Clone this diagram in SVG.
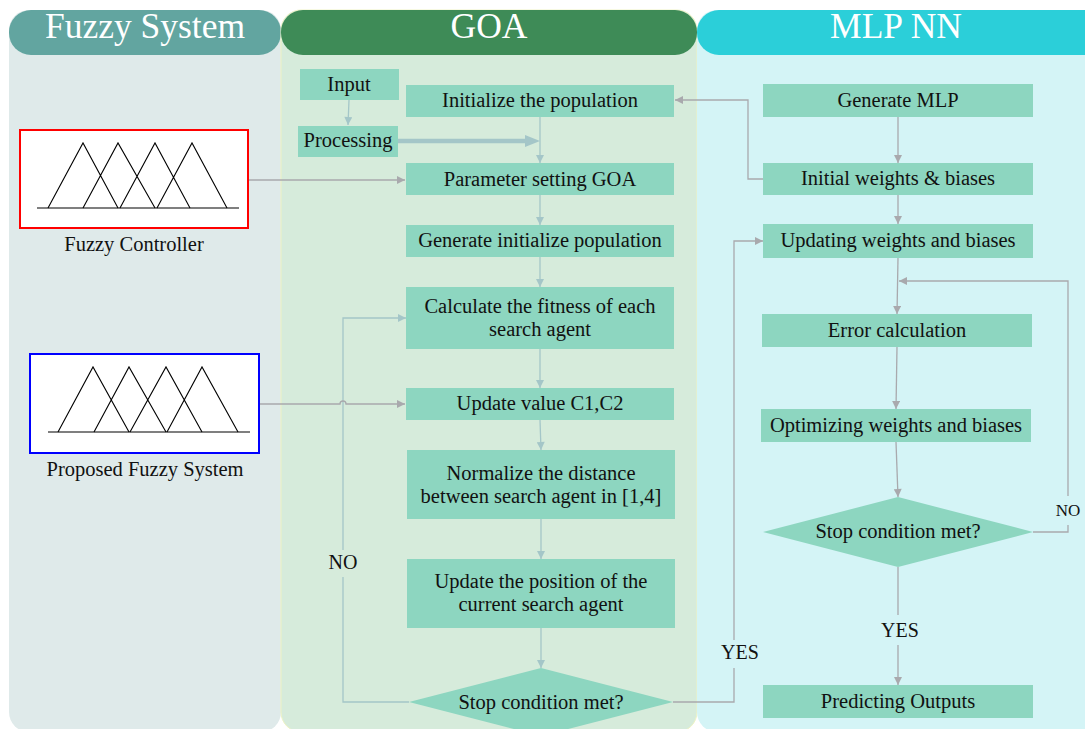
<svg xmlns="http://www.w3.org/2000/svg" width="1085" height="729" viewBox="0 0 1085 729">
<defs>
<style>
text{font-family:"Liberation Serif","Times New Roman",serif}
.hdr{font-size:35.5px;fill:#fff;text-anchor:middle}
.nt{font-size:20.5px;fill:#111;text-anchor:middle}
.lbl{font-size:20px;fill:#111;text-anchor:middle}
.node{fill:#8dd6c0}
.cg{fill:none;stroke:#a9a9ad;stroke-width:1.3}
.cb{fill:none;stroke:#a4c6c8;stroke-width:1.3}
.tri{fill:none;stroke:#000;stroke-width:1.1}
</style>
<marker id="ag" viewBox="0 0 10 10" refX="10" refY="5" markerWidth="9" markerHeight="8" markerUnits="userSpaceOnUse" orient="auto"><path d="M0,0L10,5L0,10z" fill="#a9a9ad"/></marker>
<marker id="ab" viewBox="0 0 10 10" refX="10" refY="5" markerWidth="9" markerHeight="8" markerUnits="userSpaceOnUse" orient="auto"><path d="M0,0L10,5L0,10z" fill="#a4c6c8"/></marker>
</defs>
<rect width="1085" height="729" fill="#fff"/>
<g font-family="Liberation Serif, Times New Roman, serif">
<!-- lanes -->
<g id="lane-fuzzy">
<rect x="9" y="10" width="272" height="722" rx="20" fill="#dfeaea"/>
<rect x="9" y="10" width="272" height="45" rx="22" fill="#62a5a0"/>
<text class="hdr" x="145" y="38">Fuzzy System</text>
</g>
<g id="lane-goa">
<rect x="281" y="10" width="416" height="722" rx="20" fill="#d6ebdb" stroke="#eef3c4" stroke-width="1"/>
<rect x="281" y="10" width="416" height="45" rx="22" fill="#3e8b57"/>
<text class="hdr" x="489" y="38">GOA</text>
</g>
<g id="lane-mlp">
<rect x="697" y="10" width="410" height="722" rx="20" fill="#d4f4f6"/>
<rect x="697" y="10" width="410" height="45" rx="22" fill="#2bcfd9"/>
<text class="hdr" x="896" y="38">MLP NN</text>
</g>
<!-- connectors -->
<g id="connectors">
<path class="cb" d="M349,100 L348,125" marker-end="url(#ab)"/>
<path d="M398,141 H527" fill="none" stroke="#a4c6c8" stroke-width="4.5"/>
<path d="M525,135 L540,141 L525,147 z" fill="#a4c6c8"/>
<path class="cb" d="M540,117 V163" marker-end="url(#ab)"/>
<path class="cb" d="M540,195 V225" marker-end="url(#ab)"/>
<path class="cb" d="M540,257 V287" marker-end="url(#ab)"/>
<path class="cb" d="M540,349 V388" marker-end="url(#ab)"/>
<path class="cb" d="M540,420 L541,450" marker-end="url(#ab)"/>
<path class="cb" d="M541,519 V559" marker-end="url(#ab)"/>
<path class="cb" d="M541,628 V668" marker-end="url(#ab)"/>
<path class="cb" d="M409,702 H343 V577 M343,550 V318 H406" marker-end="url(#ab)"/>
<path class="cg" d="M673,702 H734 V668 M734,640 V241 H763" marker-end="url(#ag)"/>
<path class="cg" d="M248,180 H405" marker-end="url(#ag)"/>
<path class="cg" d="M259,404 H340 a3,3 0 0 1 6,0 H405" marker-end="url(#ag)"/>
<path class="cg" d="M763,179 H748 V100 H675" marker-end="url(#ag)"/>
<path class="cg" d="M898,117 V163" marker-end="url(#ag)"/>
<path class="cg" d="M898,195 V224" marker-end="url(#ag)"/>
<path class="cg" d="M898,258 L897,314" marker-end="url(#ag)"/>
<path class="cg" d="M897,347 L896,409" marker-end="url(#ag)"/>
<path class="cg" d="M896,442 L898,497" marker-end="url(#ag)"/>
<path class="cg" d="M1033,532 H1068 V525 M1068,496 V281 H899" marker-end="url(#ag)"/>
<path class="cg" d="M898,567 V615 M898,645 V685" marker-end="url(#ag)"/>
</g>
<!-- labels -->
<g id="labels">
<text class="lbl" x="343" y="569">NO</text>
<text class="lbl" x="740" y="659">YES</text>
<text class="lbl" x="900" y="637">YES</text>
<text class="lbl" x="1068" y="516" style="font-size:17px">NO</text>
</g>
<!-- fuzzy -->
<g id="fuzzy-controller">
<rect x="20" y="130" width="228" height="98" fill="#fff" stroke="#ff0000" stroke-width="2"/>
<path class="tri" d="M37,208 H239" stroke-width="2"/>
<path class="tri" d="M48,208 L83,143 L118,208 M83,208 L118,143 L155,208 M120,208 L155,143 L190,208 M157,208 L192,143 L227,208"/>
<text class="nt" x="134" y="251">Fuzzy Controller</text>
</g>
<g id="proposed-fuzzy">
<rect x="30" y="354" width="229" height="99" fill="#fff" stroke="#0000ff" stroke-width="2"/>
<path class="tri" d="M48,432 H250" stroke-width="2"/>
<path class="tri" d="M58,432 L93,367 L129,432 M94,432 L129,367 L166,432 M130,432 L166,367 L202,432 M167,432 L202,367 L238,432"/>
<text class="nt" x="145" y="476">Proposed Fuzzy System</text>
</g>
<!-- GOA nodes -->
<g id="input"><rect class="node" x="300" y="69" width="99" height="31"/><text class="nt" x="349" y="91">Input</text></g>
<g id="processing"><rect class="node" x="298" y="126" width="100" height="31"/><text class="nt" x="348" y="147">Processing</text></g>
<g id="init-pop"><rect class="node" x="406" y="85" width="268" height="32"/><text class="nt" x="540" y="107">Initialize the population</text></g>
<g id="param-goa"><rect class="node" x="406" y="163" width="268" height="32"/><text class="nt" x="540" y="186">Parameter setting GOA</text></g>
<g id="gen-init-pop"><rect class="node" x="406" y="225" width="268" height="32"/><text class="nt" x="540" y="247">Generate initialize population</text></g>
<g id="calc-fitness"><rect class="node" x="406" y="287" width="268" height="62"/><text class="nt" x="540" y="313">Calculate the fitness of each</text><text class="nt" x="540" y="336">search agent</text></g>
<g id="update-c"><rect class="node" x="406" y="388" width="268" height="32"/><text class="nt" x="540" y="410">Update value C1,C2</text></g>
<g id="normalize"><rect class="node" x="407" y="450" width="268" height="69"/><text class="nt" x="541" y="480">Normalize the distance</text><text class="nt" x="541" y="503">between search agent in [1,4]</text></g>
<g id="update-pos"><rect class="node" x="407" y="559" width="268" height="69"/><text class="nt" x="541" y="588">Update the position of the</text><text class="nt" x="541" y="611">current search agent</text></g>
<g id="goa-stop"><path class="node" d="M409,702 L541,668 L673,702 L541,736 z"/><text class="nt" x="541" y="709">Stop condition met?</text></g>
<!-- MLP nodes -->
<g id="gen-mlp"><rect class="node" x="763" y="84" width="270" height="33"/><text class="nt" x="898" y="107">Generate MLP</text></g>
<g id="init-weights"><rect class="node" x="763" y="163" width="270" height="32"/><text class="nt" x="898" y="185">Initial weights &amp; biases</text></g>
<g id="updating"><rect class="node" x="763" y="224" width="270" height="34"/><text class="nt" x="898" y="247">Updating weights and biases</text></g>
<g id="error"><rect class="node" x="762" y="314" width="270" height="33"/><text class="nt" x="897" y="337">Error calculation</text></g>
<g id="optimizing"><rect class="node" x="761" y="409" width="270" height="33"/><text class="nt" x="896" y="432">Optimizing weights and biases</text></g>
<g id="mlp-stop"><path class="node" d="M763,532 L898,497 L1033,532 L898,567 z"/><text class="nt" x="898" y="538">Stop condition met?</text></g>
<g id="predicting"><rect class="node" x="763" y="685" width="270" height="33"/><text class="nt" x="898" y="708">Predicting Outputs</text></g>
</g>
</svg>
